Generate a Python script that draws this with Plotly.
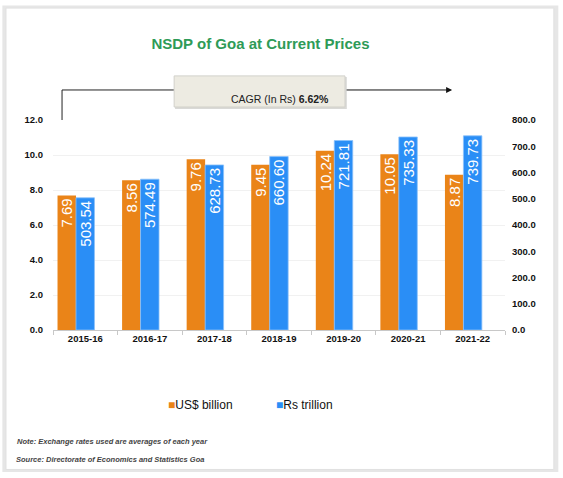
####################################################################################################################
# plot.py
#
# NSDP of Goa at current prices - dual axis bar chart (US$ billion vs Rs trillion)

import plotly.graph_objects as go

####################################################################################################################
# DATA
years = ['2015-16', '2016-17', '2017-18', '2018-19', '2019-20', '2020-21', '2021-22']
usd_billion = [7.69, 8.56, 9.76, 9.45, 10.24, 10.05, 8.87]
rs_trillion = [503.54, 574.49, 628.73, 660.60, 721.81, 735.33, 739.73]
left_ticks = [0, 2, 4, 6, 8, 10, 12]
right_ticks = [0, 100, 200, 300, 400, 500, 600, 700, 800]

title_text = 'NSDP of Goa at Current Prices'
cagr_text = 'CAGR (In Rs) <b>6.62%</b>'
note_text = 'Note: Exchange rates used are averages of each year'
source_text = 'Source: Directorate of Economics and Statistics Goa'

orange = '#EA8418'
blue = '#2A8EF6'
arial = 'Liberation Sans, Arial'

####################################################################################################################
# FIGURE
fig = go.Figure()

fig.add_trace(go.Bar(x=years, y=usd_billion, name='US$ billion', yaxis='y',
                     marker=dict(color=orange, line=dict(width=0)),
                     offset=-0.43, width=0.286,
                     texttemplate='%{y:.2f}', textposition='inside', textangle=-90,
                     insidetextanchor='end', constraintext='none',
                     textfont=dict(color='white', size=15, family=arial)))

fig.add_trace(go.Bar(x=years, y=rs_trillion, name='Rs trillion', yaxis='y2',
                     marker=dict(color=blue, line=dict(width=0.8, color='#8cc2fa')),
                     offset=-0.144, width=0.286,
                     texttemplate='%{y:.2f}', textposition='inside', textangle=-90,
                     insidetextanchor='end', constraintext='none',
                     textfont=dict(color='white', size=15, family=arial)))

# frame + shadow round the whole chart
shapes = [
    dict(type='rect', xref='paper', yref='paper', x0=-0.112, x1=1.118, y0=-0.676, y1=1.545,
         line=dict(width=0), fillcolor='#e6e6e6', layer='below'),
    dict(type='rect', xref='paper', yref='paper', x0=-0.104, x1=1.108, y0=-0.664, y1=1.533,
         line=dict(width=1, color='#e0e0e0'), fillcolor='white', layer='below'),
    # CAGR connector lines
    dict(type='line', xref='paper', yref='paper', x0=0.02, x1=0.02, y0=1.0, y1=1.143,
         line=dict(width=1, color='#222')),
    dict(type='line', xref='paper', yref='paper', x0=0.02, x1=0.268, y0=1.143, y1=1.143,
         line=dict(width=1, color='#222')),
    # CAGR box shadow + box
    dict(type='rect', xref='paper', yref='paper', x0=0.270, x1=0.650, y0=1.052, y1=1.205,
         line=dict(width=0), fillcolor='#d9d9d6'),
    dict(type='rect', xref='paper', yref='paper', x0=0.268, x1=0.646, y0=1.062, y1=1.21,
         line=dict(width=1, color='#d2d1cb'), fillcolor='#EDEBE2'),
]

annotations = [
    dict(text=cagr_text, xref='paper', yref='paper', x=0.502, y=1.136, showarrow=False,
         font=dict(size=10.5, color='#222', family=arial)),
    dict(text='', xref='paper', yref='paper', x=0.883, y=1.143, ax=-107, ay=0,
         showarrow=True, arrowhead=2, arrowsize=1.2, arrowwidth=1, arrowcolor='#111'),
    # legend entries
    dict(text='<span style="color:' + orange + '">■</span>US$ billion', xref='paper', yref='paper',
         x=0.250, y=-0.357, xanchor='left', yanchor='middle', showarrow=False,
         font=dict(size=12, color='#111', family=arial)),
    dict(text='<span style="color:' + blue + '">■</span>Rs trillion', xref='paper', yref='paper',
         x=0.490, y=-0.357, xanchor='left', yanchor='middle', showarrow=False,
         font=dict(size=12, color='#111', family=arial)),
    # footnotes
    dict(text='<i><b>' + note_text + '</b></i>', xref='paper', yref='paper', x=-0.084, y=-0.533,
         xanchor='left', yanchor='middle', showarrow=False,
         font=dict(size=7.5, color='#444', family=arial)),
    dict(text='<i><b>' + source_text + '</b></i>', xref='paper', yref='paper', x=-0.086, y=-0.619,
         xanchor='left', yanchor='middle', showarrow=False,
         font=dict(size=7.5, color='#444', family=arial)),
]

fig.update_layout(
    width=563, height=478,
    margin=dict(l=53, r=58, t=120, b=148),
    paper_bgcolor='white', plot_bgcolor='rgba(0,0,0,0)',
    barmode='overlay', showlegend=False,
    title=dict(text='<b>' + title_text + '</b>', x=0.4627, xanchor='center', xref='container',
               y=0.908, yanchor='middle', yref='container',
               font=dict(size=15, color='#2E9B57', family=arial)),
    xaxis=dict(type='category', showline=True, linecolor='#c8c8c8', linewidth=1,
               ticks='outside', tickson='boundaries', ticklen=4, tickcolor='#c8c8c8',
               tickfont=dict(size=9.5, color='#111', family=arial, weight='bold'),
               showgrid=False),
    yaxis=dict(range=[0, 12], tickvals=left_ticks, tickformat='.1f', showgrid=True,
               gridcolor='#f1f1f1', gridwidth=1, zeroline=False, showline=False,
               tickfont=dict(size=9.5, color='#111', family=arial, weight='bold'),
               ticklabelstandoff=9),
    yaxis2=dict(range=[0, 800], tickvals=right_ticks, tickformat='.1f', overlaying='y',
                side='right', showgrid=False, zeroline=False, showline=False,
                tickfont=dict(size=9.5, color='#111', family=arial, weight='bold'),
                ticklabelstandoff=6),
    shapes=shapes,
    annotations=annotations,
)

# the page has a default 8px body margin - drop it so the figure sits at 0,0
fig.write_html('out.html', config={'displayModeBar': False},
               post_script="document.body.style.margin='0';")
